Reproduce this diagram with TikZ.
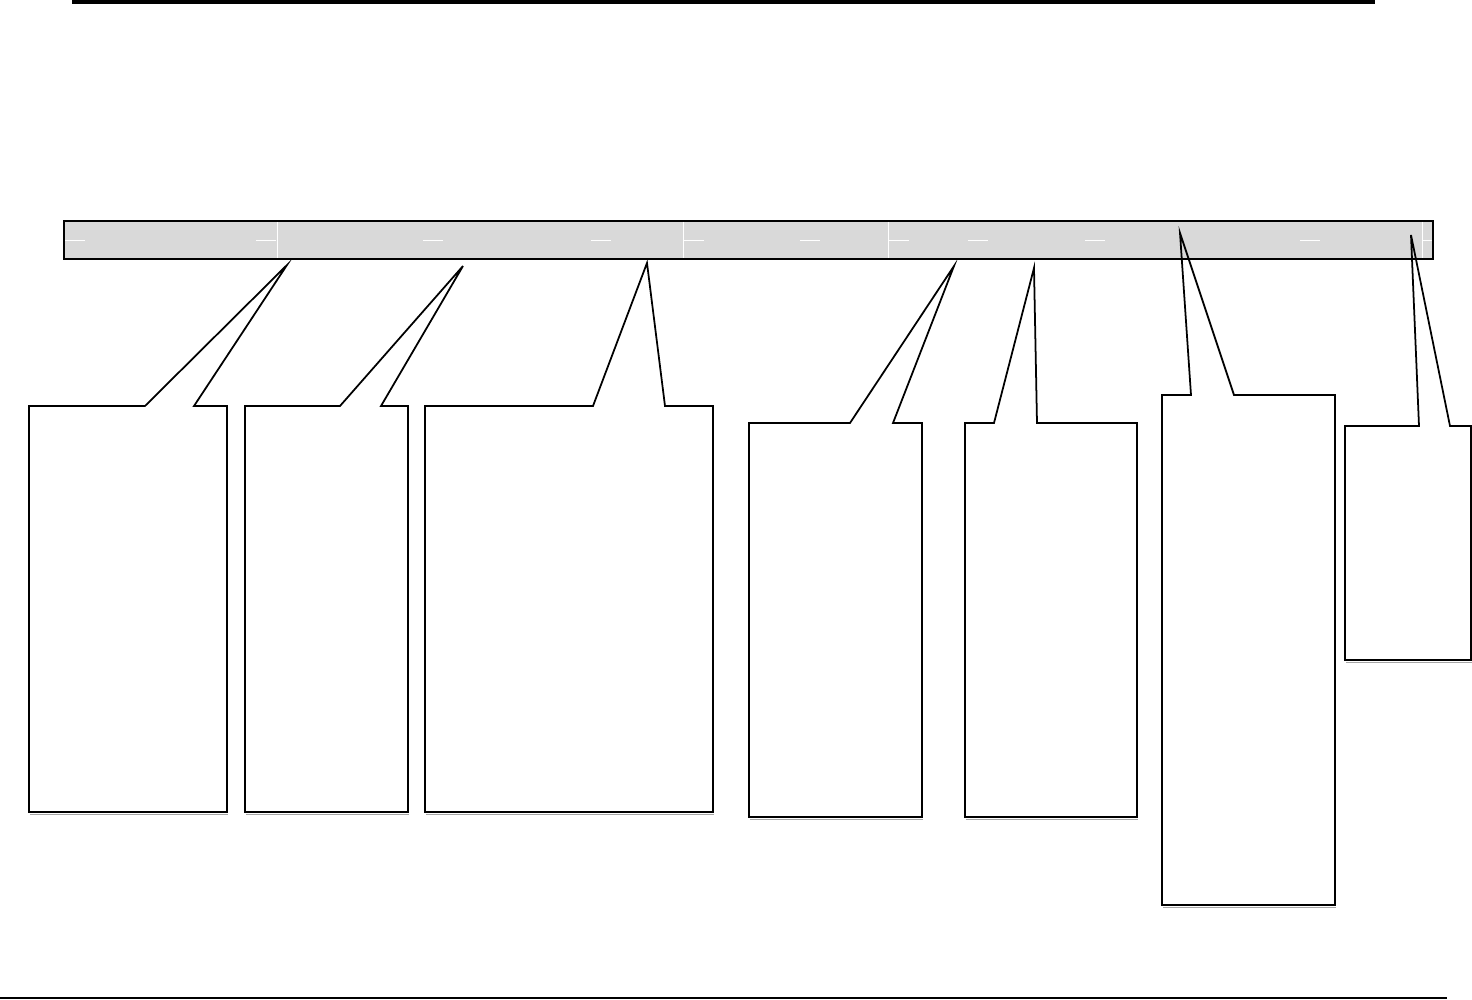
\documentclass[tikz,border=0pt]{standalone}
\definecolor{barfill}{HTML}{D9D9D9}
\begin{document}
\begin{tikzpicture}[x=0.02cm,y=-0.02cm, line join=miter, line cap=butt]
			\useasboundingbox (0,0) rectangle (1472,1000);
			\draw[line width=2.3pt] (72,2)--(1375,2);
			\draw[line width=0.8pt] (0,998)--(1447,998);
			\draw[fill=barfill, line width=0.8pt] (64,221) rectangle (1433,259);
			\foreach \u in {277,683,888,1422} \draw[white,line width=0.4pt] (\u,222)--(\u,258); % Vạch chia
			\foreach \u in {65,256,423,591,684,800,889,968,1085,1300} \draw[white,line width=0.4pt] (\u,240)--++(20,0);
			\draw[white,line width=0.4pt] (1422,240)--(1432,240);
			% khung chú thích: trái/trên/phải/dưới/chân trái/chân phải/đỉnh
			\foreach \l/\t/\r/\b/\p/\q/\tx/\ty in {29/406/227/812/145/194/287/265,
				245/406/408/812/340/381/463/266, 425/406/713/812/593/665/647/263,
				749/423/922/817/850/893/954/266, 965/423/1137/817/994/1037/1034/268,
				1162/395/1335/905/1191/1234/1180/233, 1345/426/1471/660/1419/1450/1411/235}{
				\draw[gray!70,line width=1pt] (\l+1,\b+2.5)--(\r+1,\b+2.5);
				\draw[line width=1pt] (\l,\t)--(\p,\t)--(\tx,\ty)--(\q,\t)--(\r,\t)--(\r,\b)--(\l,\b)--cycle;
			}
\end{tikzpicture}
\end{document}
